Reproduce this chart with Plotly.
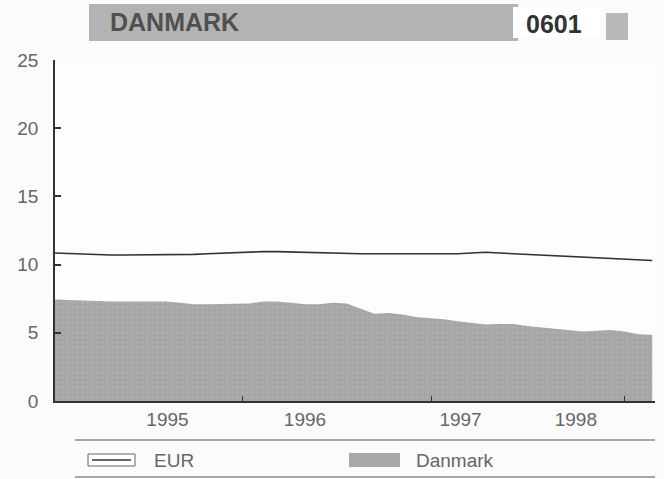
import plotly.graph_objects as go

# ---- data ----
periods = list(range(44))
eur = [10.85, 10.8, 10.78, 10.75, 10.7, 10.7, 10.7, 10.72, 10.7, 10.7,
       10.75, 10.8, 10.85, 10.9, 10.95, 10.95, 10.95, 10.92, 10.9, 10.85,
       10.82, 10.8, 10.8, 10.8, 10.8, 10.78, 10.78, 10.78, 10.75, 10.8,
       10.85, 10.9, 10.85, 10.8, 10.75, 10.65, 10.62, 10.55, 10.5, 10.5,
       10.45, 10.35, 10.3, 10.3]
danmark = [7.45, 7.4, 7.35, 7.35, 7.3, 7.3, 7.3, 7.3, 7.3, 7.2,
           7.1, 7.1, 7.1, 7.1, 7.15, 7.3, 7.3, 7.2, 7.1, 7.1,
           7.2, 7.15, 6.8, 6.4, 6.45, 6.35, 6.15, 6.1, 6.0, 5.85,
           5.7, 5.6, 5.65, 5.65, 5.5, 5.4, 5.35, 5.2, 5.1, 5.15,
           5.2, 5.1, 4.9, 4.85]
year_labels = ["1995", "1996", "1997", "1998"]
year_label_pos = [8.1, 18.0, 29.2, 37.5]
year_tick_pos = [13.5, 27.1, 41.0]
y_ticks = [0, 5, 10, 15, 20, 25]

W, H = 664, 479
L, R, T, B = 55, 9, 60, 78
pw, ph = W - L - R, H - T - B


def px(x):
    return (x - L) / pw


def py(y):
    return (H - B - y) / ph


fig = go.Figure()
fig.add_trace(go.Scatter(
    x=periods, y=danmark, mode="lines", fill="tozeroy",
    line=dict(width=0, color="#a8a8a8"),
    fillcolor="#a9a9a9",
    fillpattern=dict(shape=".", fgcolor="#c4c4c4", bgcolor="#a6a6a6",
                     size=5, solidity=0.15),
    name="Danmark", showlegend=False, hoverinfo="skip"))
fig.add_trace(go.Scatter(
    x=periods, y=eur, mode="lines",
    line=dict(width=1.6, color="#333333"),
    name="EUR", showlegend=False))

font_lbl = dict(family="Liberation Sans, Arial", size=19, color="#666666")

fig.update_layout(
    width=W, height=H,
    margin=dict(l=L, r=R, t=T, b=B),
    paper_bgcolor="#fbfbfb", plot_bgcolor="#fdfdfd",
    showlegend=False,
    xaxis=dict(range=[0, 43.2], showgrid=False, zeroline=False,
               showline=True, linecolor="#333333", linewidth=1.5,
               tickmode="array", tickvals=year_label_pos, ticktext=year_labels,
               ticks="", tickfont=font_lbl,
               minor=dict(tickmode="array", tickvals=year_tick_pos,
                          ticks="inside", ticklen=5, tickcolor="#333333",
                          showgrid=False)),
    yaxis=dict(range=[0, 25], showgrid=False, zeroline=False,
               showline=True, linecolor="#333333", linewidth=1.5,
               tickmode="array", tickvals=y_ticks,
               ticks="inside", ticklen=6, tickcolor="#333333", tickwidth=1.5,
               tickfont=font_lbl, ticklabelstandoff=11),
)

shapes = []
ann = []
# title banner
shapes.append(dict(type="rect", xref="paper", yref="paper",
                   x0=px(89), x1=px(518), y0=py(41), y1=py(4),
                   fillcolor="#b3b3b3", line=dict(width=0), layer="above"))
shapes.append(dict(type="rect", xref="paper", yref="paper",
                   x0=px(513), x1=px(600), y0=py(38), y1=py(7),
                   fillcolor="#ffffff", line=dict(width=0), layer="above"))
shapes.append(dict(type="rect", xref="paper", yref="paper",
                   x0=px(606), x1=px(628), y0=py(40), y1=py(13),
                   fillcolor="#b8b8b8", line=dict(width=0), layer="above"))
ann.append(dict(text="<b>DANMARK</b>", xref="paper", yref="paper",
                x=px(108), y=py(22), xanchor="left", yanchor="middle",
                showarrow=False,
                font=dict(family="Liberation Sans, Arial", size=25, color="#505050")))
ann.append(dict(text="<b>0601</b>", xref="paper", yref="paper",
                x=px(554), y=py(24), xanchor="center", yanchor="middle",
                showarrow=False,
                font=dict(family="Liberation Sans, Arial", size=25, color="#333333")))

# legend block
for yy in (440, 477):
    shapes.append(dict(type="line", xref="paper", yref="paper",
                       x0=px(75), x1=px(655), y0=py(yy), y1=py(yy),
                       line=dict(color="#555555", width=1.2)))
shapes.append(dict(type="rect", xref="paper", yref="paper",
                   x0=px(88), x1=px(135), y0=py(466), y1=py(454),
                   fillcolor="#ffffff", line=dict(color="#666666", width=1)))
shapes.append(dict(type="line", xref="paper", yref="paper",
                   x0=px(92), x1=px(131), y0=py(460), y1=py(460),
                   line=dict(color="#333333", width=1.5)))
shapes.append(dict(type="rect", xref="paper", yref="paper",
                   x0=px(349), x1=px(400), y0=py(467), y1=py(453),
                   fillcolor="#a9a9a9", line=dict(width=0)))
ann.append(dict(text="EUR", xref="paper", yref="paper",
                x=px(152), y=py(460), xanchor="left", yanchor="middle",
                showarrow=False, font=font_lbl))
ann.append(dict(text="Danmark", xref="paper", yref="paper",
                x=px(414), y=py(460), xanchor="left", yanchor="middle",
                showarrow=False, font=font_lbl))

fig.update_layout(shapes=shapes, annotations=ann)
fig.write_html("out.html", config={"displayModeBar": False},
               post_script="document.body.style.margin='0';document.body.style.padding='0';")
